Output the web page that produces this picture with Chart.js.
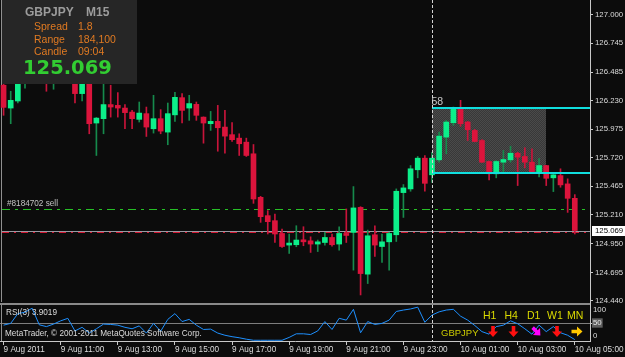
<!DOCTYPE html>
<html>
<head>
<meta charset="utf-8">
<script src="https://cdn.jsdelivr.net/npm/chart.js@4.4.1/dist/chart.umd.min.js"></script>
<style>
html,body{margin:0;padding:0;background:#0c0c0c;overflow:hidden;}
#wrap{position:relative;width:625px;height:357px;background:#0c0c0c;}
canvas{position:absolute;left:0;display:block;}
#main{top:0;}
#rsi{top:305px;}
</style>
</head>
<body>
<div id="wrap">
<canvas id="main" width="625" height="305"></canvas>
<canvas id="rsi" width="625" height="52"></canvas>
</div>
<script>
// ---------- DATA ----------
const symbol = 'GBPJPY';
const period = 'M15';
const infoLabels = ['Spread', 'Range', 'Candle'];
const infoValues = ['1.8', '184,100', '09:04'];

const timeTickIndex = [0, 8, 16, 24, 32, 40, 48, 56, 64, 72, 80];
const timeLabels = ['9 Aug 2011', '9 Aug 11:00', '9 Aug 13:00', '9 Aug 15:00', '9 Aug 17:00',
  '9 Aug 19:00', '9 Aug 21:00', '9 Aug 23:00', '10 Aug 01:00', '10 Aug 03:00', '10 Aug 05:00'];

const priceTicks = [127.000, 126.745, 126.485, 126.230, 125.975, 125.720, 125.465, 125.210, 124.950, 124.695, 124.440];
const priceMin = 124.43;
const priceMax = 127.13;

const openP = [126.368,126.164,126.227,126.413,126.520,126.600,126.450,126.400,126.430,126.470,
126.510,126.293,126.390,126.030,126.069,126.195,126.188,126.164,126.128,126.063,
126.114,125.979,126.069,125.949,126.103,126.257,126.164,126.197,126.083,126.024,
126.045,125.994,125.926,125.895,125.859,125.755,125.366,125.202,125.157,125.043,
124.939,124.942,124.986,124.977,124.948,124.962,125.007,124.948,125.043,125.052,
125.276,124.679,125.031,124.926,124.968,125.031,125.408,125.441,125.612,125.716,
125.567,125.701,125.904,126.033,126.159,126.039,125.964,125.874,125.686,125.576,
125.680,125.701,125.760,125.731,125.680,125.590,125.650,125.540,125.560,125.486,
125.357];
const highP = [126.413,126.314,126.430,126.574,126.630,126.620,126.470,126.460,126.500,126.540,
126.530,126.420,126.410,126.080,126.390,126.368,126.302,126.195,126.143,126.218,
126.173,126.278,126.150,126.209,126.305,126.293,126.278,126.218,126.085,126.134,
126.188,126.143,126.033,125.934,125.895,125.838,125.375,125.247,125.217,125.082,
125.038,125.112,125.103,125.013,124.984,125.052,125.038,125.103,125.262,125.462,
125.282,125.073,125.112,125.038,125.052,125.441,125.480,125.650,125.731,125.740,
125.769,125.949,126.054,126.173,126.233,126.045,125.973,125.883,125.690,125.695,
125.785,125.823,125.769,125.809,125.800,125.713,125.652,125.570,125.621,125.531,
125.390];
const lowP = [126.099,126.024,126.209,126.341,126.500,126.420,126.314,126.332,126.410,126.450,
126.209,126.227,125.934,125.740,125.934,126.083,126.083,125.979,125.979,126.039,
125.910,125.940,125.934,125.836,126.045,126.030,126.054,126.054,125.850,125.964,
125.778,125.760,125.865,125.740,125.731,125.312,125.142,125.038,124.962,124.917,
124.864,124.924,124.933,124.873,124.881,124.939,124.930,124.894,124.962,124.715,
124.493,124.595,124.837,124.783,124.715,124.971,125.186,125.420,125.540,125.420,
125.500,125.680,125.755,126.009,126.000,125.874,125.862,125.677,125.522,125.540,
125.590,125.680,125.471,125.630,125.581,125.549,125.471,125.417,125.456,125.231,
125.038];
const closeP = [126.170,126.233,126.395,126.520,126.600,126.450,126.400,126.430,126.470,126.510,
126.293,126.390,126.024,126.074,126.195,126.173,126.164,126.123,126.069,126.119,
125.994,126.069,125.958,126.114,126.260,126.143,126.204,126.099,126.030,126.045,
125.988,125.913,125.881,125.845,125.740,125.351,125.193,125.148,125.038,124.926,
124.957,124.984,124.968,124.948,124.968,125.007,124.942,125.043,125.025,125.271,
124.684,125.022,124.939,124.968,125.043,125.420,125.450,125.621,125.716,125.491,
125.716,125.913,126.039,126.159,126.024,125.970,125.865,125.680,125.576,125.686,
125.704,125.760,125.725,125.680,125.590,125.650,125.536,125.567,125.477,125.357,
125.069];

const rsiValues = [44,49,76,80,91,45,40,47,56,63,
28,38,22,34,47,46,44,38,34,42,
22,49,27,60,76,54,60,44,32,33,
22,16,12,9,5,2,2,2,2,2,
10,20,20,18,28,54,32,63,58,88,
23,54,46,49,58,82,86,89,94,52,
72,81,86,88,69,58,43,26,19,40,
44,56,48,34,19,44,26,40,23,16,
3.9019];
const rsiLevel = 50;
const rsiPeriod = 3;

const sellPrice = 125.262;
const sellLabel = '#8184702 sell';
const stopPrice = 125.057;
const bidPrice = 125.069;

const boxStartIndex = 60, boxEndIndex = 76;
const boxHigh = 126.160, boxLow = 125.580;
const boxLabel = '58';
const dayBreakIndex = 60;

const mtfLabels = ['H1', 'H4', 'D1', 'W1', 'MN'];
const mtfSignals = ['down', 'down', 'downright', 'down', 'right'];

// ---------- STYLE ----------
const COL = {
  bg: '#0c0c0c', bull: '#0cef8a', bear: '#dc143c', bullWick: '#168a4c', bearWick: '#c8143a',
  axis: '#c8c8c8', text: '#dcdcdc', sell: '#26c026', stop: '#d21832', bid: '#9a9aa4',
  cyan: '#10dede', frame: '#909090', infoBg: '#262626', orange: '#e07a22', big: '#32cd32',
  mtf: '#dcdc00', rsi: '#1e90ff'
};
const FONT = '"Liberation Sans", Arial, sans-serif';
Chart.defaults.font.family = FONT;

const n = openP.length;
const idx = Array.from({length: n}, (_, i) => i);
const isBull = idx.map(i => closeP[i] >= openP[i]);
const xMin = -0.5, xMax = 82.13;

function hLine(g, x0, x1, y, color, dash) {
  const yy = Math.round(y) + 0.5;
  g.save(); g.strokeStyle = color; g.lineWidth = 1; g.setLineDash(dash);
  g.beginPath(); g.moveTo(x0, yy); g.lineTo(x1, yy); g.stroke(); g.restore();
}
function vDash(g, x, y0, y1) {
  const xx = Math.round(x) + 0.5;
  g.save(); g.strokeStyle = '#d4d4d4'; g.lineWidth = 1; g.setLineDash([3, 2]);
  g.beginPath(); g.moveTo(xx, y0); g.lineTo(xx, y1); g.stroke(); g.restore();
}
function makeDither() {
  const c = document.createElement('canvas'); c.width = 2; c.height = 2;
  const g = c.getContext('2d');
  g.fillStyle = '#383838'; g.fillRect(0, 0, 2, 2);
  g.fillStyle = '#4a4a4a'; g.fillRect(0, 0, 1, 1); g.fillRect(1, 1, 1, 1);
  return c;
}
function arrow(g, cx, cy, ang, color) {
  g.save(); g.translate(cx, cy); g.rotate(ang);
  g.beginPath();
  g.moveTo(-1.8, -5.5); g.lineTo(1.8, -5.5); g.lineTo(1.8, 0); g.lineTo(5, 0);
  g.lineTo(0, 5.5); g.lineTo(-5, 0); g.lineTo(-1.8, 0); g.closePath();
  g.fillStyle = color; g.fill(); g.restore();
}

// ---------- MAIN CHART ----------
const mainDecor = {
  id: 'mainDecor',
  beforeDraw(c) {
    const g = c.ctx; g.save(); g.fillStyle = COL.bg; g.fillRect(0, 0, c.width, c.height); g.restore();
  },
  beforeDatasetsDraw(c) {
    const g = c.ctx, a = c.chartArea, xs = c.scales.x, ys = c.scales.y;
    g.save();
    const bx0 = xs.getPixelForValue(boxStartIndex), bx1 = xs.getPixelForValue(boxEndIndex);
    const by0 = ys.getPixelForValue(boxHigh), by1 = ys.getPixelForValue(boxLow);
    g.fillStyle = g.createPattern(makeDither(), 'repeat');
    g.fillRect(Math.round(bx0), Math.round(by0), Math.round(bx1 - bx0), Math.round(by1 - by0));
    hLine(g, 2, a.right, ys.getPixelForValue(sellPrice), COL.sell, [8, 5, 3, 5]);
    hLine(g, 2, a.right, ys.getPixelForValue(stopPrice), COL.stop, [7, 5, 2, 5]);
    hLine(g, 2, a.right, ys.getPixelForValue(bidPrice), COL.bid, []);
    g.strokeStyle = COL.frame; g.lineWidth = 1;
    g.beginPath(); g.moveTo(1.5, 0); g.lineTo(1.5, a.bottom); g.stroke();
    g.restore();
  },
  afterDatasetsDraw(c) {
    const g = c.ctx, a = c.chartArea, xs = c.scales.x, ys = c.scales.y;
    g.save();
    const bx0 = xs.getPixelForValue(boxStartIndex);
    const by0 = ys.getPixelForValue(boxHigh), by1 = ys.getPixelForValue(boxLow);
    g.strokeStyle = COL.cyan; g.lineWidth = 2;
    [by0, by1].forEach(yy => { const y2 = Math.round(yy); g.beginPath(); g.moveTo(bx0, y2); g.lineTo(a.right, y2); g.stroke(); });
    g.fillStyle = '#c8c8c8'; g.font = '10.5px ' + FONT; g.textBaseline = 'middle'; g.textAlign = 'left';
    g.fillText(boxLabel, bx0 - 0.5, by0 - 6.5);
    vDash(g, xs.getPixelForValue(dayBreakIndex), 0, c.height);
    g.fillStyle = '#c4c4c4'; g.font = '8.2px ' + FONT;
    g.fillText(sellLabel, 7, ys.getPixelForValue(sellPrice) - 5);
    g.restore();
  },
  afterDraw(c) {
    const g = c.ctx, a = c.chartArea, ys = c.scales.y;
    g.save();
    g.fillStyle = COL.infoBg; g.fillRect(2, 0, 135, 84);
    g.textBaseline = 'middle'; g.textAlign = 'left';
    g.font = 'bold 12px ' + FONT; g.fillStyle = '#9c9c9c';
    g.fillText(symbol, 25, 13); g.fillText(period, 86, 13);
    g.font = '10.5px ' + FONT; g.fillStyle = COL.orange;
    infoLabels.forEach((t, k) => { const yy = 27 + k * 12.7; g.fillText(t, 34, yy); g.fillText(infoValues[k], 78, yy); });
    g.font = 'bold 19.5px "DejaVu Sans", sans-serif'; g.fillStyle = COL.big;
    g.fillText(closeP[n - 1].toFixed(3), 23, 68.5);
    const py = ys.getPixelForValue(bidPrice);
    g.fillStyle = '#ffffff'; g.fillRect(592, Math.round(py) - 5, 33, 10);
    g.fillStyle = '#000000'; g.font = '7.8px ' + FONT; g.fillText(bidPrice.toFixed(3), 595, py);
    g.fillStyle = '#8a8a8a'; g.fillRect(0, 303, a.right, 2);
    g.fillStyle = COL.axis; g.fillRect(Math.round(a.right), a.bottom, 1, c.height - a.bottom);
    g.restore();
  }
};

new Chart(document.getElementById('main'), {
  type: 'bar',
  data: {
    datasets: [
      {
        label: 'body', order: 0, grouped: false, barThickness: 5, minBarLength: 1, borderWidth: 0,
        data: idx.map(i => ({x: i, y: [Math.min(openP[i], closeP[i]), Math.max(openP[i], closeP[i])]})),
        backgroundColor: idx.map(i => isBull[i] ? COL.bull : COL.bear)
      },
      {
        label: 'wick', order: 1, grouped: false, barThickness: 1, minBarLength: 1, borderWidth: 0,
        data: idx.map(i => ({x: i, y: [lowP[i], highP[i]]})),
        backgroundColor: idx.map(i => isBull[i] ? COL.bullWick : COL.bearWick)
      }
    ]
  },
  options: {
    responsive: false, animation: false, devicePixelRatio: 1, events: [],
    layout: {padding: {left: 0, right: 0, top: 0, bottom: 3}},
    plugins: {legend: {display: false}, tooltip: {enabled: false}},
    scales: {
      x: {type: 'linear', display: false, min: xMin, max: xMax, offset: false},
      y: {
        position: 'right', min: priceMin, max: priceMax, beginAtZero: false,
        afterBuildTicks: s => { s.ticks = priceTicks.map(v => ({value: v})); },
        afterFit: s => { s.width = 35; s.paddingTop = 0; s.paddingBottom = 0; },
        ticks: {color: COL.text, font: {size: 7.8}, padding: 2, callback: v => Number(v).toFixed(3)},
        grid: {drawOnChartArea: false, drawTicks: true, tickLength: 3, color: COL.axis},
        border: {display: true, color: COL.axis}
      }
    }
  },
  plugins: [mainDecor]
});

// ---------- RSI CHART ----------
const rsiDecor = {
  id: 'rsiDecor',
  beforeDraw(c) {
    const g = c.ctx; g.save(); g.fillStyle = COL.bg; g.fillRect(0, 0, c.width, c.height); g.restore();
  },
  beforeDatasetsDraw(c) {
    const g = c.ctx, a = c.chartArea, ys = c.scales.y;
    hLine(g, a.left, a.right, ys.getPixelForValue(rsiLevel), '#7e7e7e', []);
    g.save(); g.strokeStyle = COL.frame; g.lineWidth = 1;
    g.beginPath(); g.moveTo(1.5, a.top); g.lineTo(1.5, a.bottom); g.stroke(); g.restore();
  },
  afterDatasetsDraw(c) {
    const g = c.ctx, a = c.chartArea, xs = c.scales.x;
    vDash(g, xs.getPixelForValue(dayBreakIndex), a.top, a.bottom);
    g.save();
    g.textBaseline = 'middle'; g.textAlign = 'left';
    g.fillStyle = COL.text; g.font = '8.2px ' + FONT;
    g.fillText('RSI(' + rsiPeriod + ') ' + rsiValues[n - 1].toFixed(4), 6, 8);
    g.fillText('MetaTrader, \u00A9 2001-2011 MetaQuotes Software Corp.', 5, 29);
    g.fillStyle = COL.mtf; g.font = '10.5px ' + FONT;
    const lx = [483, 504.5, 527, 547, 567];
    mtfLabels.forEach((t, k) => g.fillText(t, lx[k], 11));
    g.font = '9.5px ' + FONT; g.fillStyle = '#cccc00';
    g.fillText(symbol, 441, 28);
    const ax = [493, 513.5, 536.5, 557, 577];
    mtfSignals.forEach((s, k) => {
      if (s === 'down') arrow(g, ax[k], 26.5, 0, '#ff1010');
      else if (s === 'downright') arrow(g, ax[k], 26.5, -Math.PI / 4, '#ff00ff');
      else arrow(g, ax[k], 26.5, -Math.PI / 2, '#ffc800');
    });
    g.restore();
  },
  afterDraw(c) {
    const g = c.ctx, a = c.chartArea;
    g.save(); g.fillStyle = COL.text; g.font = '7.8px ' + FONT; g.textBaseline = 'middle'; g.textAlign = 'left';
    g.fillText('100', a.right + 3, a.top + 5);
    g.fillText('0', a.right + 3, a.bottom - 5.5);
    g.restore();
  }
};

new Chart(document.getElementById('rsi'), {
  type: 'line',
  data: {
    datasets: [{
      label: 'RSI', data: idx.map(i => ({x: i, y: rsiValues[i]})),
      borderColor: COL.rsi, borderWidth: 1, pointRadius: 0, tension: 0, fill: false
    }]
  },
  options: {
    responsive: false, animation: false, devicePixelRatio: 1, events: [],
    layout: {padding: 0},
    plugins: {legend: {display: false}, tooltip: {enabled: false}},
    scales: {
      x: {
        type: 'linear', min: xMin, max: xMax, offset: false,
        afterBuildTicks: s => { s.ticks = timeTickIndex.map(v => ({value: v})); },
        afterFit: s => { s.height = 16; s.paddingLeft = 0; s.paddingRight = 0; },
        ticks: {
          color: COL.text, font: {size: 8.2}, align: 'start', padding: 0, maxRotation: 0, minRotation: 0, autoSkip: false,
          callback: v => { const k = timeTickIndex.indexOf(v); return k < 0 ? '' : timeLabels[k]; }
        },
        grid: {drawOnChartArea: false, drawTicks: true, tickLength: 4, color: COL.axis},
        border: {display: true, color: COL.axis}
      },
      y: {
        position: 'right', min: 0, max: 100,
        afterBuildTicks: s => { s.ticks = [{value: rsiLevel}]; },
        afterFit: s => { s.width = 35; s.paddingTop = 0; s.paddingBottom = 0; },
        ticks: {
          color: '#e8e8e8', font: {size: 7.8}, padding: 0, showLabelBackdrop: true,
          backdropColor: '#5e5e5e', backdropPadding: {top: 0, bottom: 0, left: 1, right: 1},
          callback: v => String(v)
        },
        grid: {drawOnChartArea: false, drawTicks: true, tickLength: 3, color: COL.axis},
        border: {display: true, color: COL.axis}
      }
    }
  },
  plugins: [rsiDecor]
});
</script>
</body>
</html>
